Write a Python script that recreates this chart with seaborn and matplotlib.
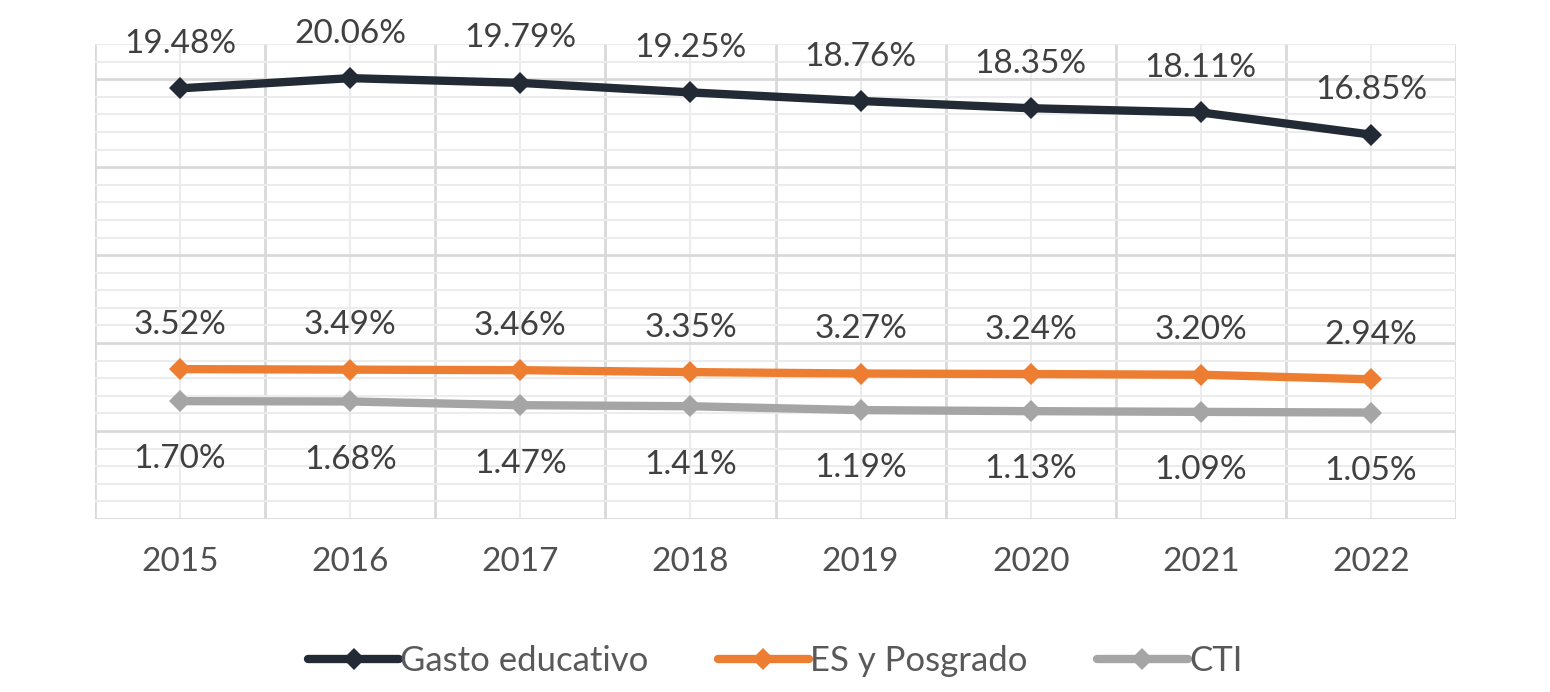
import numpy as np
import pandas as pd
import matplotlib
matplotlib.use("Agg")
import matplotlib.pyplot as plt
import seaborn as sns

# Datos del gráfico
anios = ["2015", "2016", "2017", "2018", "2019", "2020", "2021", "2022"]
gasto_educativo = [19.48, 20.06, 19.79, 19.25, 18.76, 18.35, 18.11, 16.85]
es_posgrado = [3.52, 3.49, 3.46, 3.35, 3.27, 3.24, 3.20, 2.94]
cti = [1.70, 1.68, 1.47, 1.41, 1.19, 1.13, 1.09, 1.05]

series = ["Gasto educativo", "ES y Posgrado", "CTI"]
colores = ["#222a35", "#ed7d31", "#a5a5a5"]

df = pd.DataFrame({
    "anio": list(range(len(anios))) * 3,
    "valor": gasto_educativo + es_posgrado + cti,
    "serie": np.repeat(series, len(anios)),
})

sns.set_style("white")
plt.rcParams["font.family"] = ["Lato", "DejaVu Sans"]

fig = plt.figure(figsize=(15.5, 6.92), dpi=100)
ax = fig.add_axes([0.0613, 0.25, 0.8781, 0.6864])

sns.lineplot(data=df, x="anio", y="valor", hue="serie", style="serie",
             palette=dict(zip(series, colores)), markers=["D"] * 3, dashes=False,
             linewidth=6, markersize=11, markeredgewidth=0, ax=ax)

# Etiquetas de datos
offsets = {"Gasto educativo": 32, "ES y Posgrado": 32, "CTI": -42}
for nombre, valores in zip(series, [gasto_educativo, es_posgrado, cti]):
    for i, v in enumerate(valores):
        ax.annotate(f"{v:.2f}%", (i, v), xytext=(0, offsets[nombre]),
                    textcoords="offset points", ha="center", va="center",
                    fontsize=24, color="#404040")

# Ejes y rejilla
ax.set_xlim(-0.5, 7.5)
ax.set_ylim(-5, 22)
ax.set_xticks(range(len(anios)))
ax.set_xticklabels(anios, fontsize=24, color="#505050")
ax.set_xticks(np.arange(-0.5, 8, 1), minor=True)
ax.set_yticks(np.arange(-5, 21, 5))
ax.set_yticks(np.arange(-5, 23, 1), minor=True)
ax.set_yticklabels([])
ax.tick_params(axis="both", which="both", length=0)
ax.tick_params(axis="x", pad=20)
ax.grid(True, which="major", axis="y", color="#d9d9d9", linewidth=2)
ax.grid(True, which="minor", axis="y", color="#ececec", linewidth=1.5)
ax.grid(True, which="minor", axis="x", color="#d9d9d9", linewidth=2)
ax.grid(True, which="major", axis="x", color="#ececec", linewidth=1.5)
ax.set_axisbelow(True)
for s in ax.spines.values():
    s.set_visible(False)
ax.set_xlabel("")
ax.set_ylabel("")

leg = ax.legend(loc="center", bbox_to_anchor=(0.5, -0.3), bbox_transform=ax.transAxes,
                ncol=3, frameon=False, fontsize=25, handlelength=2.6,
                handletextpad=0.05, columnspacing=2.0)
for t in leg.get_texts():
    t.set_color("#595959")

plt.savefig("out.png", dpi=100)
